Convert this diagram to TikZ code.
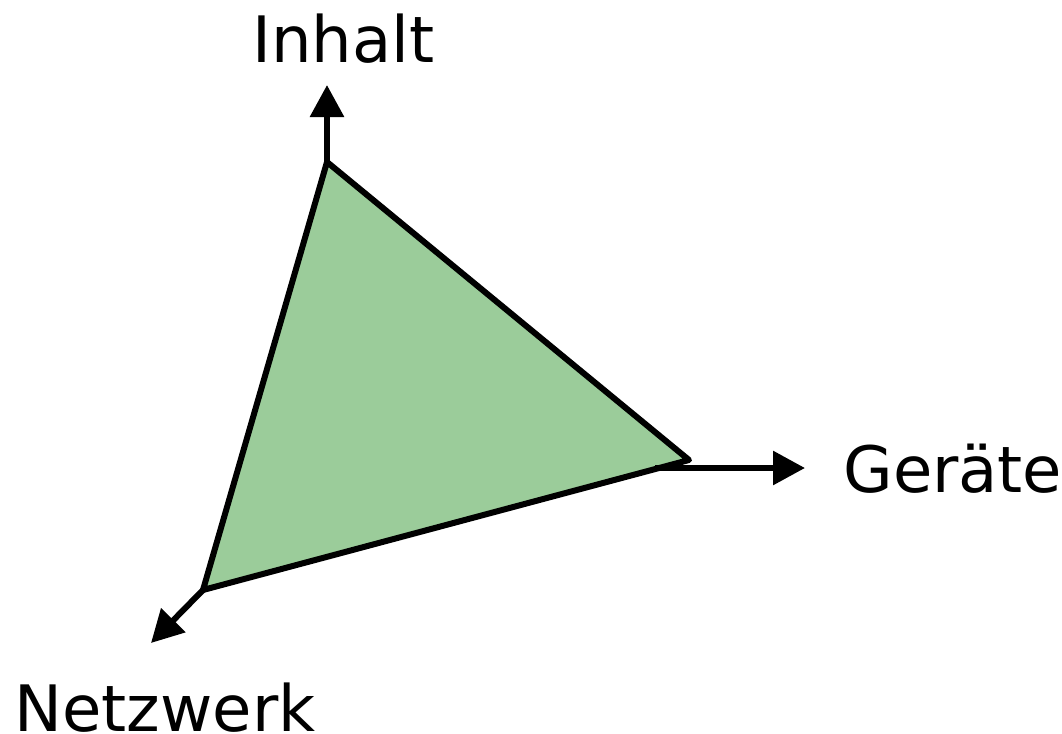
\documentclass[tikz,border=0pt]{standalone}
\usepackage{fontspec}
\setmainfont{DejaVu Sans}
\usetikzlibrary{arrows.meta}
\definecolor{planegreen}{RGB}{155,204,154}

\begin{document}
\begin{tikzpicture}[>={Triangle[length=16pt,width=16.5pt]}, x=0.5pt, y=-0.5pt,
        axis/.style={->, line width=3pt},
        label/.style={anchor=base west, inner sep=0pt, font=\fontsize{32}{38}\selectfont}]
            \useasboundingbox (0,0) rectangle (1062,734);
            \coordinate (vtop) at (327,162);
            \coordinate (vright) at (689,460);
            \coordinate (vleft) at (203,590);
            \coordinate (gstart) at (655,468);
            \coordinate (iend) at (327,85);
            \coordinate (gend) at (805,468);
            \coordinate (nend) at (151,643);

            \draw[fill=planegreen, line width=3pt, line join=round] (vtop) -- (vright) -- (vleft) -- cycle;

            \draw[axis] (vtop) -- (iend);
            \draw[axis] (gstart) -- (gend);
            \draw[axis] (vleft) -- (nend);

            \node[label] (inhalt) at (252,62) {Inhalt};
            \node[label] (geraete) at (843,492) {Geräte};
            \node[label] (netzwerk) at (14,731) {Netzwerk};
        \end{tikzpicture}
\end{document}
